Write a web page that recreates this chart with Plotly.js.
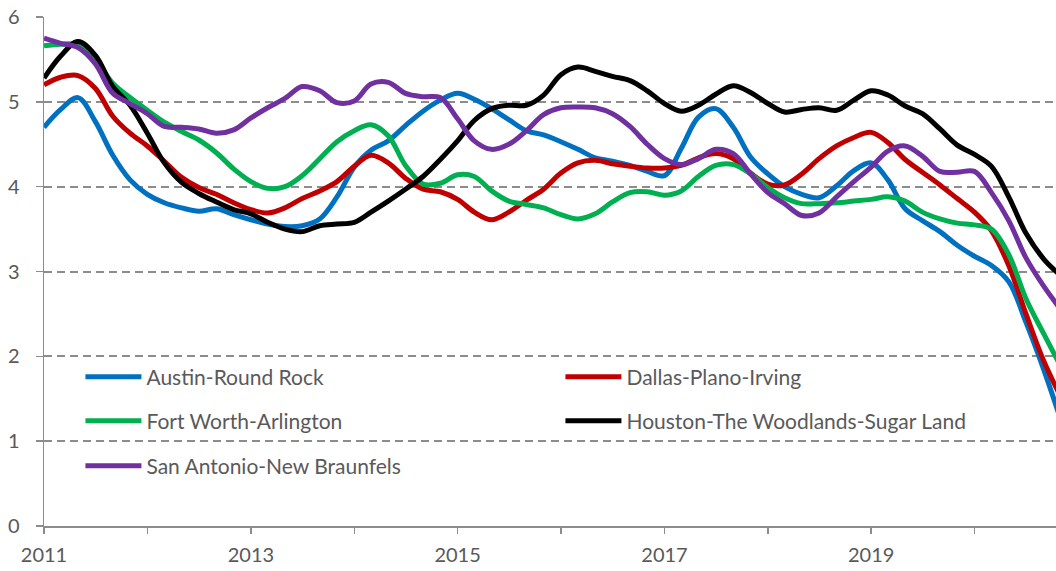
<!DOCTYPE html>
<html>
<head>
<meta charset="utf-8">
<script src="https://cdn.plot.ly/plotly-3.0.1.min.js"></script>
<style>html,body{margin:0;padding:0;background:#fff;}#chart{width:1056px;height:571px;}</style>
</head>
<body>
<div id="chart"></div>
<script>
const months = [
'2011-01','2011-03','2011-05','2011-07','2011-09','2011-11',
'2012-01','2012-03','2012-05','2012-07','2012-09','2012-11',
'2013-01','2013-03','2013-05','2013-07','2013-09','2013-11',
'2014-01','2014-03','2014-05','2014-07','2014-09','2014-11',
'2015-01','2015-03','2015-05','2015-07','2015-09','2015-11',
'2016-01','2016-03','2016-05','2016-07','2016-09','2016-11',
'2017-01','2017-03','2017-05','2017-07','2017-09','2017-11',
'2018-01','2018-03','2018-05','2018-07','2018-09','2018-11',
'2019-01','2019-03','2019-05','2019-07','2019-09','2019-11',
'2020-01','2020-03','2020-05','2020-07','2020-09','2020-11'];

const austin = [4.70,4.91,5.05,4.77,4.37,4.08, 3.91,3.81,3.75,3.71,3.74,3.67,
 3.61,3.56,3.53,3.54,3.62,3.88, 4.23,4.43,4.54,4.72,4.89,5.02,
 5.10,5.03,4.92,4.79,4.66,4.61, 4.53,4.44,4.34,4.30,4.25,4.18,
 4.13,4.45,4.82,4.92,4.70,4.35, 4.15,4.00,3.91,3.87,4.01,4.19,
 4.28,4.08,3.74,3.60,3.47,3.31, 3.18,3.07,2.88,2.40,1.85,1.25];

const dallas = [5.20,5.29,5.31,5.16,4.83,4.63, 4.48,4.30,4.11,3.99,3.91,3.81,
 3.73,3.69,3.75,3.86,3.95,4.06, 4.24,4.37,4.28,4.10,3.97,3.94,
 3.85,3.70,3.61,3.70,3.84,3.97, 4.16,4.28,4.31,4.27,4.24,4.22,
 4.22,4.25,4.34,4.39,4.33,4.16, 4.03,4.02,4.15,4.33,4.48,4.58,
 4.64,4.52,4.32,4.17,4.02,3.86, 3.70,3.48,3.07,2.50,1.95,1.52];

const fortWorth = [5.66,5.68,5.67,5.50,5.22,5.05, 4.90,4.76,4.65,4.55,4.40,4.21,
 4.06,3.98,4.00,4.13,4.33,4.53, 4.66,4.73,4.60,4.25,4.03,4.04,
 4.14,4.12,3.95,3.83,3.79,3.75, 3.67,3.62,3.68,3.82,3.93,3.94,
 3.90,3.95,4.12,4.25,4.26,4.15, 3.99,3.87,3.80,3.80,3.81,3.83,
 3.85,3.88,3.83,3.70,3.62,3.57, 3.55,3.50,3.20,2.68,2.27,1.88];

const houston = [5.28,5.54,5.71,5.55,5.18,4.96, 4.63,4.28,4.05,3.92,3.82,3.73,
 3.68,3.58,3.50,3.47,3.54,3.56, 3.58,3.70,3.83,3.97,4.12,4.32,
 4.54,4.78,4.92,4.96,4.96,5.08, 5.32,5.41,5.36,5.30,5.25,5.13,
 4.98,4.89,4.96,5.09,5.19,5.11, 4.98,4.88,4.91,4.93,4.90,5.02,
 5.13,5.08,4.95,4.86,4.68,4.49, 4.38,4.24,3.88,3.45,3.15,2.95];

const sanAntonio = [5.75,5.69,5.64,5.45,5.10,4.98, 4.86,4.71,4.70,4.68,4.63,4.67,
 4.81,4.93,5.04,5.18,5.13,4.99, 5.01,5.21,5.23,5.10,5.06,5.05,
 4.80,4.54,4.44,4.50,4.66,4.85, 4.93,4.94,4.93,4.86,4.71,4.50,
 4.33,4.26,4.33,4.44,4.39,4.15, 3.93,3.80,3.66,3.69,3.88,4.06,
 4.23,4.42,4.48,4.36,4.18,4.17, 4.18,3.93,3.60,3.16,2.83,2.55];

const seriesNames = ['Austin-Round Rock','Dallas-Plano-Irving','Fort Worth-Arlington',
  'Houston-The Woodlands-Sugar Land','San Antonio-New Braunfels'];
const seriesColors = ['#0070C0','#C00000','#00B050','#000000','#7030A0'];
const seriesData = [austin, dallas, fortWorth, houston, sanAntonio];
const seriesLegend = ['legend','legend','legend2','legend2','legend3'];

const yearTicks = ['2011-01-01','2012-01-01','2013-01-01','2014-01-01','2015-01-01',
  '2016-01-01','2017-01-01','2018-01-01','2019-01-01','2020-01-01'];
const yearLabels = ['2011','','2013','','2015','','2017','','2019',''];

const traces = seriesData.map((d, i) => ({
  x: months, y: d, type: 'scatter', mode: 'lines', name: seriesNames[i],
  line: {color: seriesColors[i], width: 5, shape: 'spline', smoothing: 1},
  legend: seriesLegend[i]
}));

const tickFont = {family: 'Lato, "Open Sans", sans-serif', size: 20, color: '#595959'};
const legendFont = {family: 'Lato, "Open Sans", sans-serif', size: 21, color: '#595959'};
const legendBase = {orientation: 'h', x: 0.036, xanchor: 'left', yanchor: 'middle',
  entrywidth: 409, entrywidthmode: 'pixels', itemwidth: 56,
  font: legendFont, bgcolor: 'rgba(0,0,0,0)', borderwidth: 0};

const layout = {
  width: 1056, height: 571,
  margin: {l: 44, r: 0, t: 17, b: 45, pad: 0},
  paper_bgcolor: '#ffffff', plot_bgcolor: '#ffffff',
  showlegend: true,
  legend: Object.assign({}, legendBase, {y: 0.2927}),
  legend2: Object.assign({}, legendBase, {y: 0.2063}),
  legend3: Object.assign({}, legendBase, {y: 0.1179}),
  xaxis: {
    type: 'date', range: ['2011-01-01', '2020-10-15'],
    tickvals: yearTicks, ticktext: yearLabels,
    ticks: 'outside', ticklen: 6, tickwidth: 1.5, tickcolor: '#8c8c8c',
    showline: true, linecolor: '#8c8c8c', linewidth: 1.5,
    showgrid: false, zeroline: false,
    tickfont: tickFont, ticklabelstandoff: 4
  },
  yaxis: {
    range: [0, 6], tickvals: [0,1,2,3,4,5,6], ticktext: ['0','1','2','3','4','5','6'],
    ticks: 'outside', ticklen: 7, tickwidth: 1.5, tickcolor: '#8c8c8c',
    showline: true, linecolor: '#8c8c8c', linewidth: 1.5,
    showgrid: true, gridcolor: '#8c8c8c', gridwidth: 2, griddash: '8px,5px',
    zeroline: false, tickfont: tickFont, ticklabelstandoff: 12
  }
};

Plotly.newPlot('chart', traces, layout, {displayModeBar: false, staticPlot: true});
</script>
</body>
</html>
